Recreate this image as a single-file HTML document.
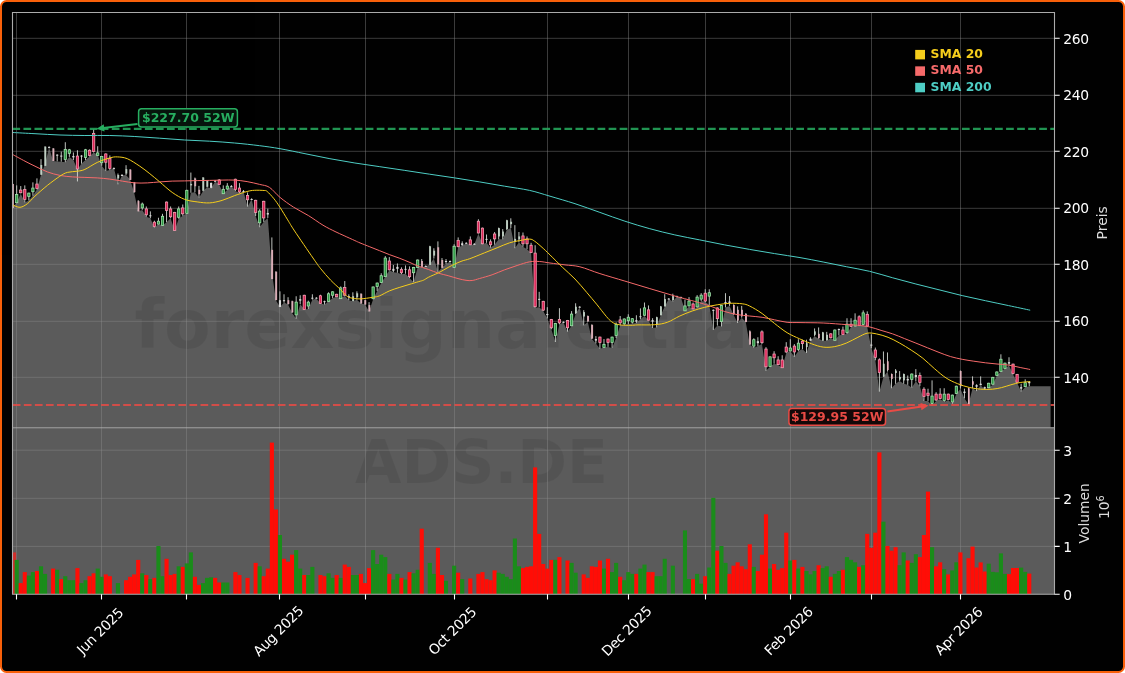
<!DOCTYPE html>
<html lang="de"><head><meta charset="utf-8"><title>ADS.DE Chart</title>
<style>html,body{margin:0;padding:0;background:#fff;}svg{display:block;}text{font-family:"DejaVu Sans", "Liberation Sans", sans-serif;}svg{opacity:0.999;will-change:opacity;}</style></head><body>
<svg width="1125" height="673" viewBox="0 0 1125 673">
<defs><clipPath id="cp"><rect x="12" y="12.5" width="1042.5" height="415.3"/></clipPath>
<clipPath id="cv"><rect x="12" y="427.8" width="1042.5" height="166.4"/></clipPath></defs>
<rect x="1" y="1" width="1123" height="671" rx="5.5" ry="5.5" fill="#000" stroke="#f8600a" stroke-width="2"/>
<rect x="12.5" y="427.8" width="1042" height="166.4" fill="#5b5b5b"/>
<g clip-path="url(#cp)"><polygon points="12.65,206.99 16.7,202.78 20.75,193.41 24.8,202.44 28.85,200.43 32.9,195.75 36.95,189.4 41,174.76 45.05,164.06 49.1,147.58 53.15,160.94 57.2,161.39 61.25,161.66 65.3,162.28 69.35,156.93 73.4,160.05 77.45,169.86 81.5,163.62 85.55,160.05 89.6,156.49 93.65,152.48 97.7,154.71 101.75,165.69 105.8,171.08 109.85,170.1 113.91,168.14 117.96,184.31 122.01,175.49 126.06,175 130.11,179.41 134.16,192.75 138.21,211.37 142.26,209.9 146.31,216.76 150.36,218.24 154.41,227.55 158.46,224.12 162.51,225.59 166.56,222.16 170.61,218.24 174.66,230.49 178.71,218.73 182.76,215.78 186.81,213.33 190.86,192.75 194.91,192.25 198.96,197.65 203.01,191.27 207.06,187.35 211.11,188.33 215.16,181.47 219.21,184.41 223.26,193.73 227.31,189.8 231.36,186.08 235.41,190.98 239.46,192.94 243.51,191.47 247.56,206.67 251.61,199.31 255.66,215.98 259.71,227.25 263.76,221.86 267.81,217.94 271.86,272.02 275.91,300.16 279.96,307.02 284.01,302.61 288.06,304.57 292.11,312.9 296.16,318.78 300.21,304.08 304.26,309.47 308.31,308.98 312.36,299.67 316.42,298.69 320.47,303.59 324.52,304.57 328.57,301.14 332.62,298.2 336.67,296.73 340.72,298.2 344.77,295.75 348.82,300.16 352.87,301.14 356.92,299.67 360.97,303.59 365.02,304.57 369.07,311.43 373.12,299.24 377.17,290.9 381.22,283.06 385.27,276.69 389.32,270.31 393.37,272.27 397.42,272.76 401.47,274.24 405.52,273.75 409.57,278.16 413.62,282.08 417.67,267.37 421.72,266.88 425.77,266.39 429.82,264.43 433.87,258.55 437.92,271.78 441.97,267.86 446.02,263.94 450.07,261.49 454.12,267.8 458.17,247.22 462.22,245.75 466.27,243.29 470.32,245.25 474.37,244.27 478.42,233.49 482.47,244.27 486.52,242.8 490.57,247.71 494.62,244.76 498.67,239.37 502.72,239.37 506.77,230.06 510.82,228.1 514.87,248.2 518.93,242.31 522.98,246.73 527.03,249.18 531.08,253.1 535.13,307.69 539.18,307.2 543.23,311.12 547.28,318.47 551.33,329.25 555.38,342 559.43,324.35 563.48,322.39 567.53,331.71 571.58,325.82 575.63,314.06 579.68,307.2 583.73,325.33 587.78,321.9 591.83,339.06 595.88,343.47 599.93,348.86 603.98,347.39 608.03,346.9 612.08,347.88 616.13,338.08 620.18,325.33 624.23,324.84 628.28,324.08 632.33,323.59 636.38,323.1 640.43,319.18 644.48,315.75 648.53,320.65 652.58,328 656.63,327.51 660.68,315.25 664.73,306.43 668.78,299.08 672.83,301.53 676.88,296.63 680.93,297.61 684.98,310.84 689.03,306.43 693.08,309.37 697.13,307.41 701.18,301.04 705.23,302.02 709.28,304.96 713.33,329.96 717.38,325.55 721.44,326.53 725.49,307.41 729.54,305.88 733.59,314.71 737.64,323.04 741.69,317.65 745.74,322.06 749.79,344.61 753.84,348.04 757.89,346.08 761.94,344.12 765.99,370.87 770.04,366.82 774.09,363.7 778.14,364.94 782.19,367.75 786.24,352.94 790.29,350.98 794.34,356.86 798.39,350.98 802.44,349.02 806.49,352.94 810.54,340.69 814.59,336.27 818.64,338.73 822.69,340.69 826.74,340.69 830.79,338.24 834.84,340.31 838.89,335.41 842.94,334.43 846.99,333.94 851.04,327.08 855.09,326.1 859.14,326.1 863.19,325.12 867.24,327.08 871.29,348.24 875.34,360.29 879.39,391.67 883.44,376.96 887.49,371.57 891.54,388.24 895.59,383.82 899.64,380.88 903.69,383.82 907.74,384.8 911.79,387.75 915.84,381.37 919.89,386.27 923.95,400.98 928,400.98 932.05,405.39 936.1,400.98 940.15,399.02 944.2,401.96 948.25,400 952.3,403.92 956.35,394.02 960.4,388.63 964.45,398.43 968.5,404.31 972.55,388.14 976.6,391.08 980.65,385.2 984.7,389.61 988.75,387.65 992.8,384.71 996.85,375.39 1000.9,371.47 1004.95,368.53 1009,365.59 1013.05,374.41 1017.1,382.75 1021.15,391.57 1025.2,387.16 1029.25,386.18 1050.6,386.18 1050.6,427.8 12.65,427.8" fill="#5b5b5b"/></g>
<g clip-path="url(#cp)"><text x="134.5" y="347.8" font-size="68" font-weight="bold" fill="#000" fill-opacity="0.08">forexsignale.trade</text></g>
<text x="481.5" y="482.5" text-anchor="middle" font-size="60" font-weight="bold" fill="#000" fill-opacity="0.08">ADS.DE</text>
<path d="M16.5,12.5V594.2M101.5,12.5V594.2M186.5,12.5V594.2M279.5,12.5V594.2M365.5,12.5V594.2M454.5,12.5V594.2M547.5,12.5V594.2M628.5,12.5V594.2M705.5,12.5V594.2M790.5,12.5V594.2M871.5,12.5V594.2M960.5,12.5V594.2M12.5,377.3H1054.5M12.5,321.3H1054.5M12.5,264.3H1054.5M12.5,208.3H1054.5M12.5,151.3H1054.5M12.5,95.3H1054.5M12.5,38.3H1054.5M12.5,546.4H1054.5M12.5,498.3H1054.5M12.5,450.2H1054.5" stroke="#8c8c8c" stroke-opacity="0.42" stroke-width="1" fill="none"/>
<g clip-path="url(#cv)">
<rect x="12.5" y="552.4" width="3.6" height="41.8" fill="#cf2e2b"/>
<rect x="14.64" y="559.9" width="4.12" height="34.3" fill="#1a8c1a"/>
<rect x="18.69" y="583.1" width="4.12" height="11.1" fill="#ff0d06"/>
<rect x="22.74" y="572.1" width="4.12" height="22.1" fill="#ff0d06"/>
<rect x="26.79" y="575.6" width="4.12" height="18.6" fill="#1a8c1a"/>
<rect x="30.84" y="572.1" width="4.12" height="22.1" fill="#1a8c1a"/>
<rect x="34.89" y="571" width="4.12" height="23.2" fill="#ff0d06"/>
<rect x="38.94" y="566.3" width="4.12" height="27.9" fill="#1a8c1a"/>
<rect x="42.99" y="573.9" width="4.12" height="20.3" fill="#1a8c1a"/>
<rect x="51.09" y="568.6" width="4.12" height="25.6" fill="#ff0d06"/>
<rect x="55.14" y="569.8" width="4.12" height="24.4" fill="#1a8c1a"/>
<rect x="59.19" y="579.1" width="4.12" height="15.1" fill="#ff0d06"/>
<rect x="63.24" y="576.2" width="4.12" height="18" fill="#1a8c1a"/>
<rect x="67.29" y="580.2" width="4.12" height="14" fill="#1a8c1a"/>
<rect x="71.34" y="580.2" width="4.12" height="14" fill="#1a8c1a"/>
<rect x="75.39" y="568.1" width="4.12" height="26.1" fill="#ff0d06"/>
<rect x="79.44" y="583.1" width="4.12" height="11.1" fill="#1a8c1a"/>
<rect x="83.49" y="580.2" width="4.12" height="14" fill="#1a8c1a"/>
<rect x="87.54" y="576.2" width="4.12" height="18" fill="#ff0d06"/>
<rect x="91.59" y="573.3" width="4.12" height="20.9" fill="#ff0d06"/>
<rect x="95.64" y="568.6" width="4.12" height="25.6" fill="#1a8c1a"/>
<rect x="99.69" y="576.8" width="4.12" height="17.4" fill="#1a8c1a"/>
<rect x="103.74" y="574.4" width="4.12" height="19.8" fill="#ff0d06"/>
<rect x="107.79" y="576.2" width="4.12" height="18" fill="#ff0d06"/>
<rect x="115.9" y="583.1" width="4.12" height="11.1" fill="#1a8c1a"/>
<rect x="124" y="580.2" width="4.12" height="14" fill="#ff0d06"/>
<rect x="128.05" y="576.8" width="4.12" height="17.4" fill="#ff0d06"/>
<rect x="132.1" y="574.4" width="4.12" height="19.8" fill="#ff0d06"/>
<rect x="136.15" y="559.9" width="4.12" height="34.3" fill="#ff0d06"/>
<rect x="140.2" y="573.3" width="4.12" height="20.9" fill="#1a8c1a"/>
<rect x="144.25" y="575" width="4.12" height="19.2" fill="#ff0d06"/>
<rect x="148.3" y="579.1" width="4.12" height="15.1" fill="#1a8c1a"/>
<rect x="152.35" y="577.9" width="4.12" height="16.3" fill="#ff0d06"/>
<rect x="156.4" y="546" width="4.12" height="48.2" fill="#1a8c1a"/>
<rect x="160.45" y="576.2" width="4.12" height="18" fill="#1a8c1a"/>
<rect x="164.5" y="558.8" width="4.12" height="35.4" fill="#ff0d06"/>
<rect x="168.55" y="575" width="4.12" height="19.2" fill="#ff0d06"/>
<rect x="172.6" y="573.9" width="4.12" height="20.3" fill="#ff0d06"/>
<rect x="176.65" y="566.3" width="4.12" height="27.9" fill="#1a8c1a"/>
<rect x="180.7" y="566.9" width="4.12" height="27.3" fill="#ff0d06"/>
<rect x="184.75" y="563.4" width="4.12" height="30.8" fill="#1a8c1a"/>
<rect x="188.8" y="552.4" width="4.12" height="41.8" fill="#1a8c1a"/>
<rect x="192.85" y="576.8" width="4.12" height="17.4" fill="#ff0d06"/>
<rect x="196.9" y="584.9" width="4.12" height="9.3" fill="#ff0d06"/>
<rect x="200.95" y="583.1" width="4.12" height="11.1" fill="#1a8c1a"/>
<rect x="205" y="577.9" width="4.12" height="16.3" fill="#1a8c1a"/>
<rect x="209.05" y="577.3" width="4.12" height="16.9" fill="#1a8c1a"/>
<rect x="213.1" y="577.9" width="4.12" height="16.3" fill="#ff0d06"/>
<rect x="217.15" y="582.5" width="4.12" height="11.7" fill="#ff0d06"/>
<rect x="221.2" y="582.5" width="4.12" height="11.7" fill="#1a8c1a"/>
<rect x="225.25" y="582.5" width="4.12" height="11.7" fill="#1a8c1a"/>
<rect x="233.35" y="572.1" width="4.12" height="22.1" fill="#ff0d06"/>
<rect x="237.4" y="575" width="4.12" height="19.2" fill="#ff0d06"/>
<rect x="245.5" y="577.9" width="4.12" height="16.3" fill="#ff0d06"/>
<rect x="253.6" y="562.9" width="4.12" height="31.3" fill="#ff0d06"/>
<rect x="257.65" y="566.3" width="4.12" height="27.9" fill="#1a8c1a"/>
<rect x="261.7" y="576.2" width="4.12" height="18" fill="#ff0d06"/>
<rect x="265.75" y="568.6" width="4.12" height="25.6" fill="#ff0d06"/>
<rect x="269.8" y="442.6" width="4.12" height="151.6" fill="#ff0d06"/>
<rect x="273.85" y="509.5" width="4.12" height="84.7" fill="#ff0d06"/>
<rect x="277.9" y="535" width="4.12" height="59.2" fill="#1a8c1a"/>
<rect x="281.95" y="558.8" width="4.12" height="35.4" fill="#ff0d06"/>
<rect x="286" y="561.7" width="4.12" height="32.5" fill="#ff0d06"/>
<rect x="290.05" y="554.7" width="4.12" height="39.5" fill="#ff0d06"/>
<rect x="294.1" y="550.1" width="4.12" height="44.1" fill="#1a8c1a"/>
<rect x="298.15" y="568.6" width="4.12" height="25.6" fill="#1a8c1a"/>
<rect x="302.2" y="575" width="4.12" height="19.2" fill="#ff0d06"/>
<rect x="306.25" y="575" width="4.12" height="19.2" fill="#1a8c1a"/>
<rect x="310.3" y="566.9" width="4.12" height="27.3" fill="#1a8c1a"/>
<rect x="318.41" y="575" width="4.12" height="19.2" fill="#ff0d06"/>
<rect x="322.46" y="576.2" width="4.12" height="18" fill="#ff0d06"/>
<rect x="326.51" y="573.3" width="4.12" height="20.9" fill="#1a8c1a"/>
<rect x="330.56" y="577.9" width="4.12" height="16.3" fill="#1a8c1a"/>
<rect x="334.61" y="575" width="4.12" height="19.2" fill="#ff0d06"/>
<rect x="338.66" y="577.9" width="4.12" height="16.3" fill="#1a8c1a"/>
<rect x="342.71" y="564.6" width="4.12" height="29.6" fill="#ff0d06"/>
<rect x="346.76" y="566.9" width="4.12" height="27.3" fill="#ff0d06"/>
<rect x="350.81" y="575" width="4.12" height="19.2" fill="#1a8c1a"/>
<rect x="354.86" y="575" width="4.12" height="19.2" fill="#1a8c1a"/>
<rect x="358.91" y="573.9" width="4.12" height="20.3" fill="#ff0d06"/>
<rect x="362.96" y="583.1" width="4.12" height="11.1" fill="#ff0d06"/>
<rect x="367.01" y="568.1" width="4.12" height="26.1" fill="#ff0d06"/>
<rect x="371.06" y="550.1" width="4.12" height="44.1" fill="#1a8c1a"/>
<rect x="375.11" y="564" width="4.12" height="30.2" fill="#1a8c1a"/>
<rect x="379.16" y="554.7" width="4.12" height="39.5" fill="#1a8c1a"/>
<rect x="383.21" y="557.1" width="4.12" height="37.1" fill="#1a8c1a"/>
<rect x="387.26" y="573.9" width="4.12" height="20.3" fill="#ff0d06"/>
<rect x="391.31" y="579.6" width="4.12" height="14.6" fill="#1a8c1a"/>
<rect x="395.36" y="573.9" width="4.12" height="20.3" fill="#1a8c1a"/>
<rect x="399.41" y="577.9" width="4.12" height="16.3" fill="#ff0d06"/>
<rect x="403.46" y="579.6" width="4.12" height="14.6" fill="#1a8c1a"/>
<rect x="407.51" y="572.1" width="4.12" height="22.1" fill="#ff0d06"/>
<rect x="411.56" y="573.3" width="4.12" height="20.9" fill="#1a8c1a"/>
<rect x="415.61" y="569.8" width="4.12" height="24.4" fill="#1a8c1a"/>
<rect x="419.66" y="528.7" width="4.12" height="65.5" fill="#ff0d06"/>
<rect x="427.76" y="562.9" width="4.12" height="31.3" fill="#1a8c1a"/>
<rect x="431.81" y="573.9" width="4.12" height="20.3" fill="#1a8c1a"/>
<rect x="435.86" y="547.8" width="4.12" height="46.4" fill="#ff0d06"/>
<rect x="439.91" y="575" width="4.12" height="19.2" fill="#ff0d06"/>
<rect x="443.96" y="580.8" width="4.12" height="13.4" fill="#1a8c1a"/>
<rect x="452.06" y="565.7" width="4.12" height="28.5" fill="#1a8c1a"/>
<rect x="456.11" y="572.7" width="4.12" height="21.5" fill="#ff0d06"/>
<rect x="460.16" y="579.1" width="4.12" height="15.1" fill="#1a8c1a"/>
<rect x="468.26" y="578.5" width="4.12" height="15.7" fill="#ff0d06"/>
<rect x="476.36" y="573.9" width="4.12" height="20.3" fill="#ff0d06"/>
<rect x="480.41" y="572.1" width="4.12" height="22.1" fill="#ff0d06"/>
<rect x="484.46" y="579.1" width="4.12" height="15.1" fill="#ff0d06"/>
<rect x="488.51" y="580.2" width="4.12" height="14" fill="#ff0d06"/>
<rect x="492.56" y="570.4" width="4.12" height="23.8" fill="#ff0d06"/>
<rect x="496.61" y="572.7" width="4.12" height="21.5" fill="#1a8c1a"/>
<rect x="500.66" y="573.9" width="4.12" height="20.3" fill="#1a8c1a"/>
<rect x="504.71" y="576.8" width="4.12" height="17.4" fill="#1a8c1a"/>
<rect x="508.76" y="579.1" width="4.12" height="15.1" fill="#1a8c1a"/>
<rect x="512.81" y="538.5" width="4.12" height="55.7" fill="#1a8c1a"/>
<rect x="516.87" y="566.3" width="4.12" height="27.9" fill="#1a8c1a"/>
<rect x="520.92" y="568.1" width="4.12" height="26.1" fill="#ff0d06"/>
<rect x="524.97" y="566.9" width="4.12" height="27.3" fill="#ff0d06"/>
<rect x="529.02" y="566.3" width="4.12" height="27.9" fill="#ff0d06"/>
<rect x="533.07" y="467.4" width="4.12" height="126.8" fill="#ff0d06"/>
<rect x="537.12" y="533.9" width="4.12" height="60.3" fill="#ff0d06"/>
<rect x="541.17" y="564" width="4.12" height="30.2" fill="#ff0d06"/>
<rect x="545.22" y="568.6" width="4.12" height="25.6" fill="#ff0d06"/>
<rect x="549.27" y="559.9" width="4.12" height="34.3" fill="#ff0d06"/>
<rect x="553.32" y="559.9" width="4.12" height="34.3" fill="#1a8c1a"/>
<rect x="557.37" y="557.1" width="4.12" height="37.1" fill="#ff0d06"/>
<rect x="565.47" y="560.5" width="4.12" height="33.7" fill="#ff0d06"/>
<rect x="569.52" y="562.9" width="4.12" height="31.3" fill="#1a8c1a"/>
<rect x="573.57" y="572.7" width="4.12" height="21.5" fill="#1a8c1a"/>
<rect x="581.67" y="574.4" width="4.12" height="19.8" fill="#ff0d06"/>
<rect x="585.72" y="577.9" width="4.12" height="16.3" fill="#ff0d06"/>
<rect x="589.77" y="566.3" width="4.12" height="27.9" fill="#ff0d06"/>
<rect x="593.82" y="566.9" width="4.12" height="27.3" fill="#ff0d06"/>
<rect x="597.87" y="560.5" width="4.12" height="33.7" fill="#ff0d06"/>
<rect x="601.92" y="568.6" width="4.12" height="25.6" fill="#1a8c1a"/>
<rect x="605.97" y="558.8" width="4.12" height="35.4" fill="#ff0d06"/>
<rect x="610.02" y="572.1" width="4.12" height="22.1" fill="#1a8c1a"/>
<rect x="614.07" y="562.9" width="4.12" height="31.3" fill="#1a8c1a"/>
<rect x="618.12" y="576.8" width="4.12" height="17.4" fill="#ff0d06"/>
<rect x="622.17" y="580.2" width="4.12" height="14" fill="#1a8c1a"/>
<rect x="626.22" y="572.1" width="4.12" height="22.1" fill="#1a8c1a"/>
<rect x="630.27" y="573.9" width="4.12" height="20.3" fill="#1a8c1a"/>
<rect x="634.32" y="573.9" width="4.12" height="20.3" fill="#ff0d06"/>
<rect x="638.37" y="568.6" width="4.12" height="25.6" fill="#1a8c1a"/>
<rect x="642.42" y="564.6" width="4.12" height="29.6" fill="#1a8c1a"/>
<rect x="646.47" y="572.1" width="4.12" height="22.1" fill="#ff0d06"/>
<rect x="650.52" y="572.1" width="4.12" height="22.1" fill="#ff0d06"/>
<rect x="654.57" y="576.2" width="4.12" height="18" fill="#1a8c1a"/>
<rect x="658.62" y="576.2" width="4.12" height="18" fill="#1a8c1a"/>
<rect x="662.67" y="558.8" width="4.12" height="35.4" fill="#1a8c1a"/>
<rect x="670.77" y="565.7" width="4.12" height="28.5" fill="#1a8c1a"/>
<rect x="682.92" y="530.4" width="4.12" height="63.8" fill="#1a8c1a"/>
<rect x="686.97" y="579.1" width="4.12" height="15.1" fill="#1a8c1a"/>
<rect x="691.02" y="579.1" width="4.12" height="15.1" fill="#ff0d06"/>
<rect x="695.07" y="573.9" width="4.12" height="20.3" fill="#1a8c1a"/>
<rect x="699.12" y="583.7" width="4.12" height="10.5" fill="#1a8c1a"/>
<rect x="703.17" y="576.2" width="4.12" height="18" fill="#ff0d06"/>
<rect x="707.22" y="567.5" width="4.12" height="26.7" fill="#1a8c1a"/>
<rect x="711.27" y="497.9" width="4.12" height="96.3" fill="#1a8c1a"/>
<rect x="715.32" y="550.7" width="4.12" height="43.5" fill="#ff0d06"/>
<rect x="719.38" y="546" width="4.12" height="48.2" fill="#1a8c1a"/>
<rect x="723.43" y="562.9" width="4.12" height="31.3" fill="#1a8c1a"/>
<rect x="727.48" y="573.9" width="4.12" height="20.3" fill="#ff0d06"/>
<rect x="731.53" y="565.7" width="4.12" height="28.5" fill="#ff0d06"/>
<rect x="735.58" y="562.3" width="4.12" height="31.9" fill="#ff0d06"/>
<rect x="739.63" y="566.3" width="4.12" height="27.9" fill="#ff0d06"/>
<rect x="743.68" y="569.2" width="4.12" height="25" fill="#ff0d06"/>
<rect x="747.73" y="544.3" width="4.12" height="49.9" fill="#ff0d06"/>
<rect x="751.78" y="566.9" width="4.12" height="27.3" fill="#1a8c1a"/>
<rect x="755.83" y="571" width="4.12" height="23.2" fill="#ff0d06"/>
<rect x="759.88" y="554.7" width="4.12" height="39.5" fill="#ff0d06"/>
<rect x="763.93" y="514.3" width="4.12" height="79.9" fill="#ff0d06"/>
<rect x="767.98" y="568.6" width="4.12" height="25.6" fill="#1a8c1a"/>
<rect x="772.03" y="564" width="4.12" height="30.2" fill="#ff0d06"/>
<rect x="776.08" y="569.8" width="4.12" height="24.4" fill="#ff0d06"/>
<rect x="780.13" y="568.1" width="4.12" height="26.1" fill="#ff0d06"/>
<rect x="784.18" y="532.7" width="4.12" height="61.5" fill="#ff0d06"/>
<rect x="788.23" y="560.5" width="4.12" height="33.7" fill="#1a8c1a"/>
<rect x="792.28" y="559.9" width="4.12" height="34.3" fill="#ff0d06"/>
<rect x="796.33" y="568.6" width="4.12" height="25.6" fill="#1a8c1a"/>
<rect x="800.38" y="566.9" width="4.12" height="27.3" fill="#ff0d06"/>
<rect x="804.43" y="571" width="4.12" height="23.2" fill="#1a8c1a"/>
<rect x="808.48" y="574.4" width="4.12" height="19.8" fill="#1a8c1a"/>
<rect x="812.53" y="571" width="4.12" height="23.2" fill="#1a8c1a"/>
<rect x="816.58" y="565.2" width="4.12" height="29" fill="#ff0d06"/>
<rect x="820.63" y="568.1" width="4.12" height="26.1" fill="#1a8c1a"/>
<rect x="824.68" y="566.3" width="4.12" height="27.9" fill="#1a8c1a"/>
<rect x="828.73" y="576.8" width="4.12" height="17.4" fill="#ff0d06"/>
<rect x="832.78" y="573.9" width="4.12" height="20.3" fill="#1a8c1a"/>
<rect x="836.83" y="571" width="4.12" height="23.2" fill="#1a8c1a"/>
<rect x="840.88" y="569.8" width="4.12" height="24.4" fill="#ff0d06"/>
<rect x="844.93" y="557.1" width="4.12" height="37.1" fill="#1a8c1a"/>
<rect x="848.98" y="559.9" width="4.12" height="34.3" fill="#1a8c1a"/>
<rect x="853.03" y="562.3" width="4.12" height="31.9" fill="#1a8c1a"/>
<rect x="857.08" y="566.9" width="4.12" height="27.3" fill="#ff0d06"/>
<rect x="861.13" y="565.2" width="4.12" height="29" fill="#1a8c1a"/>
<rect x="865.18" y="533.9" width="4.12" height="60.3" fill="#ff0d06"/>
<rect x="869.23" y="547.8" width="4.12" height="46.4" fill="#ff0d06"/>
<rect x="873.28" y="532.7" width="4.12" height="61.5" fill="#ff0d06"/>
<rect x="877.33" y="452.4" width="4.12" height="141.8" fill="#ff0d06"/>
<rect x="881.38" y="521.7" width="4.12" height="72.5" fill="#1a8c1a"/>
<rect x="885.43" y="546" width="4.12" height="48.2" fill="#ff0d06"/>
<rect x="889.48" y="550.7" width="4.12" height="43.5" fill="#ff0d06"/>
<rect x="893.53" y="547.2" width="4.12" height="47" fill="#ff0d06"/>
<rect x="897.58" y="565.2" width="4.12" height="29" fill="#1a8c1a"/>
<rect x="901.63" y="552.4" width="4.12" height="41.8" fill="#1a8c1a"/>
<rect x="905.68" y="560.5" width="4.12" height="33.7" fill="#ff0d06"/>
<rect x="909.73" y="562.9" width="4.12" height="31.3" fill="#1a8c1a"/>
<rect x="913.78" y="554.2" width="4.12" height="40" fill="#1a8c1a"/>
<rect x="917.83" y="557.1" width="4.12" height="37.1" fill="#ff0d06"/>
<rect x="921.89" y="535" width="4.12" height="59.2" fill="#ff0d06"/>
<rect x="925.94" y="491.6" width="4.12" height="102.6" fill="#ff0d06"/>
<rect x="929.99" y="547.2" width="4.12" height="47" fill="#1a8c1a"/>
<rect x="934.04" y="566.3" width="4.12" height="27.9" fill="#ff0d06"/>
<rect x="938.09" y="562.3" width="4.12" height="31.9" fill="#ff0d06"/>
<rect x="942.14" y="569.2" width="4.12" height="25" fill="#1a8c1a"/>
<rect x="946.19" y="574.4" width="4.12" height="19.8" fill="#ff0d06"/>
<rect x="950.24" y="570.4" width="4.12" height="23.8" fill="#1a8c1a"/>
<rect x="954.29" y="562.3" width="4.12" height="31.9" fill="#1a8c1a"/>
<rect x="958.34" y="552.4" width="4.12" height="41.8" fill="#ff0d06"/>
<rect x="966.44" y="558.2" width="4.12" height="36" fill="#ff0d06"/>
<rect x="970.49" y="546.6" width="4.12" height="47.6" fill="#ff0d06"/>
<rect x="974.54" y="567.5" width="4.12" height="26.7" fill="#ff0d06"/>
<rect x="978.59" y="562.4" width="4.12" height="31.8" fill="#ff0d06"/>
<rect x="982.64" y="571.5" width="4.12" height="22.7" fill="#ff0d06"/>
<rect x="986.69" y="563.7" width="4.12" height="30.5" fill="#1a8c1a"/>
<rect x="990.74" y="571.9" width="4.12" height="22.3" fill="#1a8c1a"/>
<rect x="994.79" y="572.3" width="4.12" height="21.9" fill="#1a8c1a"/>
<rect x="998.84" y="553.4" width="4.12" height="40.8" fill="#1a8c1a"/>
<rect x="1002.89" y="573.9" width="4.12" height="20.3" fill="#1a8c1a"/>
<rect x="1006.94" y="574.1" width="4.12" height="20.1" fill="#ff0d06"/>
<rect x="1010.99" y="568" width="4.12" height="26.2" fill="#ff0d06"/>
<rect x="1015.04" y="568" width="4.12" height="26.2" fill="#ff0d06"/>
<rect x="1019.09" y="567.6" width="4.12" height="26.6" fill="#1a8c1a"/>
<rect x="1023.14" y="571.9" width="4.12" height="22.3" fill="#1a8c1a"/>
<rect x="1027.19" y="573.6" width="4.12" height="20.6" fill="#ff0d06"/>
</g>
<g clip-path="url(#cp)">
<path d="M12.65,183.71V207.99M16.7,185.38V202.78M20.75,186.05V193.41M24.8,185.38V202.44M28.85,192.74V200.43M32.9,182.37V195.75M36.95,178.36V189.4M41,159.16V174.76M45.05,146.24V165.85M49.1,146.24V148.02M53.15,148.02V160.94M57.2,154.26V161.39M61.25,151.59V161.66M65.3,142.23V162.28M69.35,148.91V156.93M73.4,152.48V160.05M77.45,150.25V181.44M81.5,155.15V163.62M85.55,148.91V160.05M89.6,149.36V156.49M93.65,129.39V152.48M97.7,146.24V155.6M101.75,155.88V165.69M105.8,153.43V171.08M109.85,155.39V170.1M113.91,167.45V169.12M117.96,173.53V184.31M122.01,174.02V175.69M126.06,165.2V175M130.11,169.12V179.9M134.16,181.96V192.75M138.21,200.1V211.37M142.26,202.55V209.9M146.31,206.47V216.76M150.36,211.37V218.24M154.41,220.69V227.55M158.46,217.75V224.12M162.51,213.82V225.59M166.56,201.57V222.16M170.61,206.47V218.24M174.66,211.86V230.49M178.71,206.47V218.73M182.76,204.51V215.78M186.81,189.8V213.33M190.86,172.55V192.75M194.91,177.55V192.25M198.96,185.88V197.65M203.01,177.06V191.27M207.06,180V187.35M211.11,182.45V188.33M215.16,180V181.57M219.21,179.02V184.41M223.26,185.39V193.73M227.31,183.14V189.8M231.36,185.1V187.06M235.41,178.73V190.98M239.46,183.14V192.94M243.51,190V191.96M247.56,192.45V206.67M251.61,198.33V199.9M255.66,199.8V215.98M259.71,209.12V227.25M263.76,200.78V221.86M267.81,208.63V217.94M271.86,237.41V279.08M275.91,271.24V300.16M279.96,291.33V307.02M284.01,294.27V302.61M288.06,297.22V304.57M292.11,300.65V312.9M296.16,296.24V318.78M300.21,295.25V304.08M304.26,294.76V309.47M308.31,300.65V308.98M312.36,294.27V299.67M316.42,297.22V298.69M320.47,294.76V303.59M324.52,300.65V304.57M328.57,292.31V301.63M332.62,291.33V298.2M336.67,293.78V296.73M340.72,286.43V298.69M344.77,281.04V295.75M348.82,294.27V300.16M352.87,292.31V301.14M356.92,291.33V299.67M360.97,293.29V303.59M365.02,299.67V304.57M369.07,302.12V311.43M373.12,286.49V299.24M377.17,282.57V290.9M381.22,273.25V283.06M385.27,256.1V276.69M389.32,257.08V270.31M393.37,264.92V272.27M397.42,263.45V272.76M401.47,267.37V274.24M405.52,265.41V273.75M409.57,266.39V278.16M413.62,266.88V282.08M417.67,259.53V267.37M421.72,259.04V266.88M425.77,265.41V266.59M429.82,245.8V264.92M433.87,248.25V258.55M437.92,241.39V271.78M441.97,258.06V267.86M446.02,259.04V263.94M450.07,260.51V261.98M454.12,244.27V267.8M458.17,237.41V247.22M462.22,241.33V245.75M466.27,242.31V243.78M470.32,236.43V245.25M474.37,243.29V244.76M478.42,219.27V233.49M482.47,227.61V244.27M486.52,234.47V242.8M490.57,239.37V247.71M494.62,232.02V244.76M498.67,227.61V239.37M502.72,229.08V239.37M506.77,219.76V230.06M510.82,218.29V228.1M514.87,225.16V248.2M518.93,232.02V242.31M522.98,232.51V246.73M527.03,236.43V249.18M531.08,242.8V253.1M535.13,245.24V307.69M539.18,291.8V307.2M543.23,300.82V311.12M547.28,307.2V318.47M551.33,318.96V329.25M555.38,322.88V342M559.43,308.18V324.35M563.48,321.41V322.59M567.53,319.94V331.71M571.58,311.12V325.82M575.63,303.27V314.06M579.68,306.22V307.49M583.73,310.14V325.33M587.78,315.53V321.9M591.83,324.35V339.06M595.88,336.12V343.47M599.93,336.61V348.86M603.98,339.06V347.39M608.03,338.57V346.9M612.08,336.61V347.88M616.13,322.39V338.08M620.18,316.02V325.33M624.23,318.47V324.84M628.28,314.27V324.08M632.33,318.2V323.59M636.38,315.25V323.1M640.43,308.39V319.18M644.48,302.51V315.75M648.53,305.45V320.65M652.58,318.2V328M656.63,316.73V327.51M660.68,305.94V315.25M664.73,294.18V306.43M668.78,298.1V299.37M672.83,293.69V301.53M676.88,295.65V296.92M680.93,296.63V297.9M684.98,299.57V310.84M689.03,297.12V306.43M693.08,302.51V309.37M697.13,295.16V307.41M701.18,293.2V301.04M705.23,289.27V302.02M709.28,289.27V304.96M713.33,309.37V329.96M717.38,307.41V325.55M721.44,304.96V326.53M725.49,293.2V307.41M729.54,296.08V305.88M733.59,304.41V314.71M737.64,306.37V323.04M741.69,305.88V317.65M745.74,313.24V322.06M749.79,330.39V344.61M753.84,338.24V348.04M757.89,337.25V346.08M761.94,330.39V344.12M765.99,347.16V370.87M770.04,356.52V366.82M774.09,351.22V363.7M778.14,356.21V364.94M782.19,355.27V367.75M786.24,342.16V352.94M790.29,339.22V350.98M794.34,344.12V356.86M798.39,339.22V350.98M802.44,339.71V349.02M806.49,339.71V352.94M810.54,337.25V340.69M814.59,328.43V336.27M818.64,327.45V338.73M822.69,331.86V340.69M826.74,331.86V340.69M830.79,333.33V338.24M834.84,329.53V340.31M838.89,328.55V335.41M842.94,326.59V334.43M846.99,318.25V333.94M851.04,318.25V327.08M855.09,313.35V326.1M859.14,315.31V326.1M863.19,310.41V325.12M867.24,311.39V327.08M871.29,334.31V348.24M875.34,347.55V360.29M879.39,358.33V391.67M883.44,351.47V376.96M887.49,352.45V371.57M891.54,373.53V388.24M895.59,369.12V383.82M899.64,371.08V380.88M903.69,373.53V383.82M907.74,375.49V384.8M911.79,373.53V387.75M915.84,369.12V381.37M919.89,372.55V386.27M923.95,387.25V400.98M928,388.73V400.98M932.05,380.39V405.39M936.1,392.16V400.98M940.15,388.24V399.02M944.2,388.24V401.96M948.25,393.63V400M952.3,394.61V403.92M956.35,385.69V394.02M960.4,370.49V388.63M964.45,388.63V398.43M968.5,387.65V404.31M972.55,376.37V388.14M976.6,384.22V391.08M980.65,376.37V385.2M984.7,386.67V389.61M988.75,382.75V387.65M992.8,376.86V384.71M996.85,371.47V375.39M1000.9,354.31V371.47M1004.95,362.65V368.53M1009,357.25V365.59M1013.05,363.63V374.41M1017.1,373.92V382.75M1021.15,383.73V391.57M1025.2,379.31V387.16M1029.25,381.27V386.18" stroke="#d4d8d4" stroke-width="0.9" fill="none"/>
<rect x="12.1" y="183.98" width="1.8" height="24.01" fill="#e6b3be" fill-opacity="0.92"/>
<rect x="15.55" y="194.41" width="2.3" height="8.36" fill="#2f9a45" stroke="#a6e3b0" stroke-width="0.75"/>
<rect x="19.6" y="190.07" width="2.3" height="2.68" fill="#dc2255" stroke="#f7a3b6" stroke-width="0.75"/>
<rect x="23.65" y="189.4" width="2.3" height="10.03" fill="#dc2255" stroke="#f7a3b6" stroke-width="0.75"/>
<rect x="27.7" y="193.08" width="2.3" height="3.34" fill="#2f9a45" stroke="#a6e3b0" stroke-width="0.75"/>
<rect x="31.75" y="188.06" width="2.3" height="3.68" fill="#2f9a45" stroke="#a6e3b0" stroke-width="0.75"/>
<rect x="35.8" y="184.05" width="2.3" height="4.35" fill="#dc2255" stroke="#f7a3b6" stroke-width="0.75"/>
<rect x="40.45" y="164.96" width="1.8" height="9.8" fill="#c6d8ca" fill-opacity="0.92"/>
<rect x="44.5" y="146.68" width="1.8" height="19.16" fill="#c6d8ca" fill-opacity="0.92"/>
<rect x="48" y="147.13" width="2.2" height="1" fill="#dadada"/>
<rect x="52.6" y="148.47" width="1.8" height="12.48" fill="#e6b3be" fill-opacity="0.92"/>
<rect x="56.1" y="154.71" width="2.2" height="1" fill="#dadada"/>
<rect x="60.15" y="155.6" width="2.2" height="1" fill="#dadada"/>
<rect x="64.15" y="149.36" width="2.3" height="10.25" fill="#2f9a45" stroke="#a6e3b0" stroke-width="0.75"/>
<rect x="68.2" y="149.8" width="2.3" height="3.57" fill="#2f9a45" stroke="#a6e3b0" stroke-width="0.75"/>
<rect x="72.3" y="156.04" width="2.2" height="1.34" fill="#dadada"/>
<rect x="76.3" y="156.04" width="2.3" height="12.92" fill="#dc2255" stroke="#f7a3b6" stroke-width="0.75"/>
<rect x="80.4" y="155.6" width="2.2" height="1" fill="#dadada"/>
<rect x="84.4" y="149.8" width="2.3" height="7.58" fill="#2f9a45" stroke="#a6e3b0" stroke-width="0.75"/>
<rect x="88.45" y="150.25" width="2.3" height="5.35" fill="#dc2255" stroke="#f7a3b6" stroke-width="0.75"/>
<rect x="92.5" y="133.4" width="2.3" height="18.18" fill="#dc2255" stroke="#f7a3b6" stroke-width="0.75"/>
<rect x="96.55" y="152.92" width="2.3" height="2.67" fill="#2f9a45" stroke="#a6e3b0" stroke-width="0.75"/>
<rect x="100.6" y="156.37" width="2.3" height="6.37" fill="#2f9a45" stroke="#a6e3b0" stroke-width="0.75"/>
<rect x="104.65" y="153.92" width="2.3" height="8.33" fill="#dc2255" stroke="#f7a3b6" stroke-width="0.75"/>
<rect x="108.7" y="158.33" width="2.3" height="10.29" fill="#dc2255" stroke="#f7a3b6" stroke-width="0.75"/>
<rect x="112.81" y="168.14" width="2.2" height="1" fill="#dadada"/>
<rect x="117.41" y="175" width="1.8" height="3.43" fill="#c6d8ca" fill-opacity="0.92"/>
<rect x="120.91" y="175" width="2.2" height="1" fill="#dadada"/>
<rect x="125.51" y="169.12" width="1.8" height="4.41" fill="#c6d8ca" fill-opacity="0.92"/>
<rect x="129.56" y="169.61" width="1.8" height="10.29" fill="#e6b3be" fill-opacity="0.92"/>
<rect x="133.61" y="182.35" width="1.8" height="9.8" fill="#e6b3be" fill-opacity="0.92"/>
<rect x="137.66" y="201.08" width="1.8" height="10.29" fill="#e6b3be" fill-opacity="0.92"/>
<rect x="141.11" y="204.02" width="2.3" height="3.92" fill="#2f9a45" stroke="#a6e3b0" stroke-width="0.75"/>
<rect x="145.16" y="208.92" width="2.3" height="5.88" fill="#dc2255" stroke="#f7a3b6" stroke-width="0.75"/>
<rect x="149.26" y="215.29" width="2.2" height="1" fill="#dadada"/>
<rect x="153.26" y="222.16" width="2.3" height="4.41" fill="#dc2255" stroke="#f7a3b6" stroke-width="0.75"/>
<rect x="157.31" y="221.18" width="2.3" height="2.94" fill="#2f9a45" stroke="#a6e3b0" stroke-width="0.75"/>
<rect x="161.36" y="216.27" width="2.3" height="9.31" fill="#2f9a45" stroke="#a6e3b0" stroke-width="0.75"/>
<rect x="165.41" y="202.06" width="2.3" height="8.33" fill="#dc2255" stroke="#f7a3b6" stroke-width="0.75"/>
<rect x="169.46" y="208.92" width="2.3" height="7.84" fill="#dc2255" stroke="#f7a3b6" stroke-width="0.75"/>
<rect x="173.51" y="212.35" width="2.3" height="18.14" fill="#dc2255" stroke="#f7a3b6" stroke-width="0.75"/>
<rect x="177.56" y="208.92" width="2.3" height="8.33" fill="#2f9a45" stroke="#a6e3b0" stroke-width="0.75"/>
<rect x="181.61" y="207.94" width="2.3" height="5.88" fill="#dc2255" stroke="#f7a3b6" stroke-width="0.75"/>
<rect x="185.66" y="190.29" width="2.3" height="23.04" fill="#2f9a45" stroke="#a6e3b0" stroke-width="0.75"/>
<rect x="190.31" y="183.92" width="1.8" height="1.47" fill="#c6d8ca" fill-opacity="0.92"/>
<rect x="194.36" y="178.43" width="1.8" height="7.84" fill="#e6b3be" fill-opacity="0.92"/>
<rect x="198.41" y="189.8" width="1.8" height="4.41" fill="#e6b3be" fill-opacity="0.92"/>
<rect x="202.46" y="177.55" width="1.8" height="13.14" fill="#c6d8ca" fill-opacity="0.92"/>
<rect x="206.51" y="180.39" width="1.8" height="6.37" fill="#c6d8ca" fill-opacity="0.92"/>
<rect x="210.01" y="182.94" width="2.2" height="4.9" fill="#dadada"/>
<rect x="214.06" y="180.78" width="2.2" height="1" fill="#dadada"/>
<rect x="218.06" y="180" width="2.3" height="4.41" fill="#dc2255" stroke="#f7a3b6" stroke-width="0.75"/>
<rect x="222.11" y="189.31" width="2.3" height="4.41" fill="#2f9a45" stroke="#a6e3b0" stroke-width="0.75"/>
<rect x="226.16" y="186.08" width="2.3" height="2.94" fill="#2f9a45" stroke="#a6e3b0" stroke-width="0.75"/>
<rect x="230.26" y="186.08" width="2.2" height="1" fill="#dadada"/>
<rect x="234.26" y="179.22" width="2.3" height="10.29" fill="#dc2255" stroke="#f7a3b6" stroke-width="0.75"/>
<rect x="238.31" y="188.04" width="2.3" height="3.92" fill="#dc2255" stroke="#f7a3b6" stroke-width="0.75"/>
<rect x="242.41" y="190.98" width="2.2" height="1" fill="#dadada"/>
<rect x="246.41" y="195.39" width="2.3" height="4.41" fill="#dc2255" stroke="#f7a3b6" stroke-width="0.75"/>
<rect x="250.51" y="199.02" width="2.2" height="1" fill="#dadada"/>
<rect x="254.51" y="200.29" width="2.3" height="12.25" fill="#dc2255" stroke="#f7a3b6" stroke-width="0.75"/>
<rect x="258.56" y="211.08" width="2.3" height="11.76" fill="#2f9a45" stroke="#a6e3b0" stroke-width="0.75"/>
<rect x="262.61" y="201.27" width="2.3" height="16.67" fill="#dc2255" stroke="#f7a3b6" stroke-width="0.75"/>
<rect x="266.71" y="213.04" width="2.2" height="1.47" fill="#dadada"/>
<rect x="271.31" y="249.86" width="1.8" height="29.22" fill="#e6b3be" fill-opacity="0.92"/>
<rect x="275.36" y="271.73" width="1.8" height="28.43" fill="#e6b3be" fill-opacity="0.92"/>
<rect x="278.86" y="300.16" width="2.2" height="6.86" fill="#dadada"/>
<rect x="282.91" y="300.16" width="2.2" height="1" fill="#dadada"/>
<rect x="287.51" y="300.16" width="1.8" height="3.92" fill="#e6b3be" fill-opacity="0.92"/>
<rect x="291.56" y="301.14" width="1.8" height="11.27" fill="#e6b3be" fill-opacity="0.92"/>
<rect x="295.01" y="302.12" width="2.3" height="12.75" fill="#2f9a45" stroke="#a6e3b0" stroke-width="0.75"/>
<rect x="299.11" y="299.18" width="2.2" height="1.47" fill="#dadada"/>
<rect x="303.11" y="295.25" width="2.3" height="14.22" fill="#dc2255" stroke="#f7a3b6" stroke-width="0.75"/>
<rect x="307.16" y="302.12" width="2.3" height="3.92" fill="#2f9a45" stroke="#a6e3b0" stroke-width="0.75"/>
<rect x="311.26" y="297.71" width="2.2" height="1" fill="#dadada"/>
<rect x="315.31" y="297.71" width="2.2" height="1" fill="#dadada"/>
<rect x="319.32" y="295.75" width="2.3" height="7.84" fill="#dc2255" stroke="#f7a3b6" stroke-width="0.75"/>
<rect x="323.42" y="301.14" width="2.2" height="1" fill="#dadada"/>
<rect x="327.42" y="293.78" width="2.3" height="7.84" fill="#2f9a45" stroke="#a6e3b0" stroke-width="0.75"/>
<rect x="331.47" y="291.82" width="2.3" height="3.43" fill="#2f9a45" stroke="#a6e3b0" stroke-width="0.75"/>
<rect x="335.52" y="294.27" width="2.3" height="2.45" fill="#dc2255" stroke="#f7a3b6" stroke-width="0.75"/>
<rect x="339.57" y="287.9" width="2.3" height="10.78" fill="#2f9a45" stroke="#a6e3b0" stroke-width="0.75"/>
<rect x="343.62" y="287.41" width="2.3" height="7.84" fill="#dc2255" stroke="#f7a3b6" stroke-width="0.75"/>
<rect x="347.72" y="296.24" width="2.2" height="1" fill="#dadada"/>
<rect x="352.32" y="296.24" width="1.8" height="4.9" fill="#c6d8ca" fill-opacity="0.92"/>
<rect x="356.37" y="293.29" width="1.8" height="3.92" fill="#c6d8ca" fill-opacity="0.92"/>
<rect x="360.42" y="293.78" width="1.8" height="9.8" fill="#e6b3be" fill-opacity="0.92"/>
<rect x="364.47" y="300.16" width="1.8" height="4.41" fill="#e6b3be" fill-opacity="0.92"/>
<rect x="368.52" y="305.06" width="1.8" height="6.37" fill="#e6b3be" fill-opacity="0.92"/>
<rect x="371.97" y="286.98" width="2.3" height="11.76" fill="#2f9a45" stroke="#a6e3b0" stroke-width="0.75"/>
<rect x="376.02" y="283.06" width="2.3" height="3.43" fill="#2f9a45" stroke="#a6e3b0" stroke-width="0.75"/>
<rect x="380.07" y="275.71" width="2.3" height="6.86" fill="#2f9a45" stroke="#a6e3b0" stroke-width="0.75"/>
<rect x="384.12" y="258.06" width="2.3" height="18.63" fill="#2f9a45" stroke="#a6e3b0" stroke-width="0.75"/>
<rect x="388.17" y="261" width="2.3" height="8.82" fill="#dc2255" stroke="#f7a3b6" stroke-width="0.75"/>
<rect x="392.27" y="268.84" width="2.2" height="1.96" fill="#dadada"/>
<rect x="396.32" y="266.88" width="2.2" height="1.96" fill="#dadada"/>
<rect x="400.32" y="269.33" width="2.3" height="3.43" fill="#dc2255" stroke="#f7a3b6" stroke-width="0.75"/>
<rect x="404.42" y="268.84" width="2.2" height="1" fill="#dadada"/>
<rect x="408.42" y="269.82" width="2.3" height="6.86" fill="#dc2255" stroke="#f7a3b6" stroke-width="0.75"/>
<rect x="412.47" y="267.37" width="2.3" height="5.39" fill="#2f9a45" stroke="#a6e3b0" stroke-width="0.75"/>
<rect x="416.52" y="260.02" width="2.3" height="7.35" fill="#2f9a45" stroke="#a6e3b0" stroke-width="0.75"/>
<rect x="421.17" y="261" width="1.8" height="5.88" fill="#e6b3be" fill-opacity="0.92"/>
<rect x="424.67" y="265.9" width="2.2" height="1" fill="#dadada"/>
<rect x="429.27" y="246.29" width="1.8" height="18.63" fill="#c6d8ca" fill-opacity="0.92"/>
<rect x="433.32" y="250.71" width="1.8" height="4.9" fill="#c6d8ca" fill-opacity="0.92"/>
<rect x="437.37" y="247.27" width="1.8" height="17.16" fill="#e6b3be" fill-opacity="0.92"/>
<rect x="441.42" y="260.02" width="1.8" height="7.84" fill="#e6b3be" fill-opacity="0.92"/>
<rect x="444.92" y="261" width="2.2" height="1" fill="#dadada"/>
<rect x="448.97" y="261" width="2.2" height="1" fill="#dadada"/>
<rect x="452.97" y="246.24" width="2.3" height="21.08" fill="#2f9a45" stroke="#a6e3b0" stroke-width="0.75"/>
<rect x="457.02" y="240.35" width="2.3" height="6.37" fill="#dc2255" stroke="#f7a3b6" stroke-width="0.75"/>
<rect x="461.12" y="243.29" width="2.2" height="1.96" fill="#dadada"/>
<rect x="465.17" y="242.8" width="2.2" height="1" fill="#dadada"/>
<rect x="469.17" y="239.86" width="2.3" height="4.9" fill="#dc2255" stroke="#f7a3b6" stroke-width="0.75"/>
<rect x="473.27" y="243.78" width="2.2" height="1" fill="#dadada"/>
<rect x="477.27" y="221.24" width="2.3" height="11.76" fill="#dc2255" stroke="#f7a3b6" stroke-width="0.75"/>
<rect x="481.32" y="228.1" width="2.3" height="15.69" fill="#dc2255" stroke="#f7a3b6" stroke-width="0.75"/>
<rect x="485.42" y="238.88" width="2.2" height="1" fill="#dadada"/>
<rect x="489.42" y="241.82" width="2.3" height="2.94" fill="#dc2255" stroke="#f7a3b6" stroke-width="0.75"/>
<rect x="493.47" y="233.98" width="2.3" height="4.9" fill="#dc2255" stroke="#f7a3b6" stroke-width="0.75"/>
<rect x="498.12" y="228.1" width="1.8" height="8.33" fill="#c6d8ca" fill-opacity="0.92"/>
<rect x="502.17" y="231.53" width="1.8" height="4.9" fill="#c6d8ca" fill-opacity="0.92"/>
<rect x="506.22" y="220.25" width="1.8" height="8.82" fill="#c6d8ca" fill-opacity="0.92"/>
<rect x="510.27" y="221.73" width="1.8" height="2.45" fill="#c6d8ca" fill-opacity="0.92"/>
<rect x="514.32" y="238.88" width="1.8" height="2.94" fill="#c6d8ca" fill-opacity="0.92"/>
<rect x="518.38" y="236.43" width="1.8" height="2.94" fill="#c6d8ca" fill-opacity="0.92"/>
<rect x="521.83" y="235.94" width="2.3" height="7.84" fill="#dc2255" stroke="#f7a3b6" stroke-width="0.75"/>
<rect x="525.88" y="238.88" width="2.3" height="4.9" fill="#dc2255" stroke="#f7a3b6" stroke-width="0.75"/>
<rect x="529.93" y="245.25" width="2.3" height="7.35" fill="#dc2255" stroke="#f7a3b6" stroke-width="0.75"/>
<rect x="533.98" y="253.08" width="2.3" height="53.63" fill="#dc2255" stroke="#f7a3b6" stroke-width="0.75"/>
<rect x="538.08" y="298.86" width="2.2" height="1" fill="#dadada"/>
<rect x="542.08" y="301.31" width="2.3" height="8.82" fill="#dc2255" stroke="#f7a3b6" stroke-width="0.75"/>
<rect x="546.18" y="314.06" width="2.2" height="1" fill="#dadada"/>
<rect x="550.18" y="319.45" width="2.3" height="8.33" fill="#dc2255" stroke="#f7a3b6" stroke-width="0.75"/>
<rect x="554.23" y="323.37" width="2.3" height="12.25" fill="#2f9a45" stroke="#a6e3b0" stroke-width="0.75"/>
<rect x="558.28" y="319.45" width="2.3" height="3.43" fill="#dc2255" stroke="#f7a3b6" stroke-width="0.75"/>
<rect x="562.38" y="321.9" width="2.2" height="1" fill="#dadada"/>
<rect x="566.38" y="320.43" width="2.3" height="7.35" fill="#dc2255" stroke="#f7a3b6" stroke-width="0.75"/>
<rect x="570.43" y="314.06" width="2.3" height="11.76" fill="#2f9a45" stroke="#a6e3b0" stroke-width="0.75"/>
<rect x="575.08" y="306.71" width="1.8" height="6.37" fill="#c6d8ca" fill-opacity="0.92"/>
<rect x="578.58" y="306.71" width="2.2" height="1" fill="#dadada"/>
<rect x="583.18" y="312.1" width="1.8" height="4.41" fill="#c6d8ca" fill-opacity="0.92"/>
<rect x="587.23" y="316.02" width="1.8" height="5.39" fill="#e6b3be" fill-opacity="0.92"/>
<rect x="591.28" y="324.84" width="1.8" height="13.73" fill="#e6b3be" fill-opacity="0.92"/>
<rect x="594.78" y="339.06" width="2.2" height="1.47" fill="#dadada"/>
<rect x="598.78" y="337.1" width="2.3" height="5.39" fill="#dc2255" stroke="#f7a3b6" stroke-width="0.75"/>
<rect x="602.83" y="344.45" width="2.3" height="2.94" fill="#2f9a45" stroke="#a6e3b0" stroke-width="0.75"/>
<rect x="606.88" y="339.06" width="2.3" height="3.43" fill="#dc2255" stroke="#f7a3b6" stroke-width="0.75"/>
<rect x="610.93" y="337.1" width="2.3" height="5.39" fill="#2f9a45" stroke="#a6e3b0" stroke-width="0.75"/>
<rect x="614.98" y="324.35" width="2.3" height="11.27" fill="#2f9a45" stroke="#a6e3b0" stroke-width="0.75"/>
<rect x="619.03" y="319.94" width="2.3" height="2.94" fill="#dc2255" stroke="#f7a3b6" stroke-width="0.75"/>
<rect x="623.08" y="318.96" width="2.3" height="4.9" fill="#2f9a45" stroke="#a6e3b0" stroke-width="0.75"/>
<rect x="627.13" y="317.22" width="2.3" height="3.43" fill="#2f9a45" stroke="#a6e3b0" stroke-width="0.75"/>
<rect x="631.18" y="318.69" width="2.3" height="3.43" fill="#2f9a45" stroke="#a6e3b0" stroke-width="0.75"/>
<rect x="635.28" y="320.16" width="2.2" height="1.47" fill="#dadada"/>
<rect x="639.33" y="316.24" width="2.2" height="1" fill="#dadada"/>
<rect x="643.33" y="307.9" width="2.3" height="7.35" fill="#2f9a45" stroke="#a6e3b0" stroke-width="0.75"/>
<rect x="647.38" y="309.86" width="2.3" height="10.29" fill="#dc2255" stroke="#f7a3b6" stroke-width="0.75"/>
<rect x="651.48" y="320.16" width="2.2" height="1.47" fill="#dadada"/>
<rect x="656.08" y="317.22" width="1.8" height="6.86" fill="#c6d8ca" fill-opacity="0.92"/>
<rect x="660.13" y="306.43" width="1.8" height="8.82" fill="#c6d8ca" fill-opacity="0.92"/>
<rect x="664.18" y="299.08" width="1.8" height="7.35" fill="#c6d8ca" fill-opacity="0.92"/>
<rect x="667.68" y="298.59" width="2.2" height="1" fill="#dadada"/>
<rect x="672.28" y="296.14" width="1.8" height="3.92" fill="#c6d8ca" fill-opacity="0.92"/>
<rect x="675.78" y="296.14" width="2.2" height="1" fill="#dadada"/>
<rect x="679.83" y="297.12" width="2.2" height="1" fill="#dadada"/>
<rect x="683.83" y="305.94" width="2.3" height="4.9" fill="#2f9a45" stroke="#a6e3b0" stroke-width="0.75"/>
<rect x="687.88" y="301.04" width="2.3" height="4.9" fill="#2f9a45" stroke="#a6e3b0" stroke-width="0.75"/>
<rect x="691.93" y="303.98" width="2.3" height="4.9" fill="#dc2255" stroke="#f7a3b6" stroke-width="0.75"/>
<rect x="695.98" y="297.12" width="2.3" height="9.8" fill="#2f9a45" stroke="#a6e3b0" stroke-width="0.75"/>
<rect x="700.03" y="295.16" width="2.3" height="3.92" fill="#2f9a45" stroke="#a6e3b0" stroke-width="0.75"/>
<rect x="704.08" y="293.2" width="2.3" height="7.84" fill="#dc2255" stroke="#f7a3b6" stroke-width="0.75"/>
<rect x="708.13" y="292.71" width="2.3" height="3.43" fill="#2f9a45" stroke="#a6e3b0" stroke-width="0.75"/>
<rect x="712.23" y="309.86" width="2.2" height="1" fill="#dadada"/>
<rect x="716.23" y="307.9" width="2.3" height="10.78" fill="#dc2255" stroke="#f7a3b6" stroke-width="0.75"/>
<rect x="720.29" y="305.45" width="2.3" height="16.18" fill="#2f9a45" stroke="#a6e3b0" stroke-width="0.75"/>
<rect x="724.39" y="302.02" width="2.2" height="1.47" fill="#dadada"/>
<rect x="728.44" y="301.47" width="2.2" height="1.57" fill="#dadada"/>
<rect x="733.04" y="304.9" width="1.8" height="9.31" fill="#e6b3be" fill-opacity="0.92"/>
<rect x="737.09" y="309.8" width="1.8" height="10.78" fill="#e6b3be" fill-opacity="0.92"/>
<rect x="741.14" y="309.8" width="1.8" height="6.37" fill="#e6b3be" fill-opacity="0.92"/>
<rect x="745.19" y="313.73" width="1.8" height="8.33" fill="#e6b3be" fill-opacity="0.92"/>
<rect x="749.24" y="331.37" width="1.8" height="13.24" fill="#e6b3be" fill-opacity="0.92"/>
<rect x="752.69" y="339.71" width="2.3" height="6.37" fill="#2f9a45" stroke="#a6e3b0" stroke-width="0.75"/>
<rect x="756.79" y="341.18" width="2.2" height="1.96" fill="#dadada"/>
<rect x="760.79" y="331.86" width="2.3" height="10.78" fill="#dc2255" stroke="#f7a3b6" stroke-width="0.75"/>
<rect x="764.84" y="349.04" width="2.3" height="17.78" fill="#dc2255" stroke="#f7a3b6" stroke-width="0.75"/>
<rect x="768.89" y="356.83" width="2.3" height="9.67" fill="#2f9a45" stroke="#a6e3b0" stroke-width="0.75"/>
<rect x="772.94" y="354.03" width="2.3" height="3.74" fill="#dc2255" stroke="#f7a3b6" stroke-width="0.75"/>
<rect x="776.99" y="359.95" width="2.3" height="4.68" fill="#dc2255" stroke="#f7a3b6" stroke-width="0.75"/>
<rect x="781.04" y="359.95" width="2.3" height="7.8" fill="#dc2255" stroke="#f7a3b6" stroke-width="0.75"/>
<rect x="785.09" y="347.06" width="2.3" height="4.9" fill="#dc2255" stroke="#f7a3b6" stroke-width="0.75"/>
<rect x="789.14" y="348.04" width="2.3" height="2.94" fill="#2f9a45" stroke="#a6e3b0" stroke-width="0.75"/>
<rect x="793.19" y="346.08" width="2.3" height="5.88" fill="#dc2255" stroke="#f7a3b6" stroke-width="0.75"/>
<rect x="797.24" y="343.14" width="2.3" height="6.37" fill="#2f9a45" stroke="#a6e3b0" stroke-width="0.75"/>
<rect x="801.29" y="341.18" width="2.3" height="2.45" fill="#dc2255" stroke="#f7a3b6" stroke-width="0.75"/>
<rect x="805.94" y="343.14" width="1.8" height="3.92" fill="#c6d8ca" fill-opacity="0.92"/>
<rect x="809.44" y="338.73" width="2.2" height="1.96" fill="#dadada"/>
<rect x="814.04" y="331.37" width="1.8" height="3.43" fill="#c6d8ca" fill-opacity="0.92"/>
<rect x="818.09" y="333.82" width="1.8" height="4.41" fill="#e6b3be" fill-opacity="0.92"/>
<rect x="822.14" y="332.35" width="1.8" height="8.33" fill="#c6d8ca" fill-opacity="0.92"/>
<rect x="826.19" y="334.8" width="1.8" height="5.39" fill="#c6d8ca" fill-opacity="0.92"/>
<rect x="829.64" y="333.82" width="2.3" height="3.92" fill="#dc2255" stroke="#f7a3b6" stroke-width="0.75"/>
<rect x="833.69" y="330.02" width="2.3" height="10.29" fill="#2f9a45" stroke="#a6e3b0" stroke-width="0.75"/>
<rect x="837.79" y="329.04" width="2.2" height="1" fill="#dadada"/>
<rect x="841.79" y="330.02" width="2.3" height="4.41" fill="#dc2255" stroke="#f7a3b6" stroke-width="0.75"/>
<rect x="845.84" y="324.14" width="2.3" height="8.33" fill="#2f9a45" stroke="#a6e3b0" stroke-width="0.75"/>
<rect x="849.89" y="324.14" width="2.3" height="2.45" fill="#dc2255" stroke="#f7a3b6" stroke-width="0.75"/>
<rect x="853.94" y="320.22" width="2.3" height="5.88" fill="#2f9a45" stroke="#a6e3b0" stroke-width="0.75"/>
<rect x="857.99" y="316.78" width="2.3" height="8.82" fill="#dc2255" stroke="#f7a3b6" stroke-width="0.75"/>
<rect x="862.04" y="312.86" width="2.3" height="11.76" fill="#2f9a45" stroke="#a6e3b0" stroke-width="0.75"/>
<rect x="866.09" y="314.33" width="2.3" height="11.76" fill="#dc2255" stroke="#f7a3b6" stroke-width="0.75"/>
<rect x="870.19" y="344.61" width="2.2" height="1" fill="#dadada"/>
<rect x="874.19" y="350" width="2.3" height="7.35" fill="#dc2255" stroke="#f7a3b6" stroke-width="0.75"/>
<rect x="878.24" y="359.8" width="2.3" height="12.75" fill="#dc2255" stroke="#f7a3b6" stroke-width="0.75"/>
<rect x="882.89" y="363.73" width="1.8" height="12.75" fill="#c6d8ca" fill-opacity="0.92"/>
<rect x="886.94" y="361.27" width="1.8" height="8.82" fill="#e6b3be" fill-opacity="0.92"/>
<rect x="890.99" y="374.02" width="1.8" height="4.9" fill="#e6b3be" fill-opacity="0.92"/>
<rect x="895.04" y="370.59" width="1.8" height="2.45" fill="#c6d8ca" fill-opacity="0.92"/>
<rect x="899.09" y="376.96" width="1.8" height="2.45" fill="#c6d8ca" fill-opacity="0.92"/>
<rect x="903.14" y="374.02" width="1.8" height="6.37" fill="#c6d8ca" fill-opacity="0.92"/>
<rect x="906.64" y="378.92" width="2.2" height="1.47" fill="#dadada"/>
<rect x="910.64" y="374.02" width="2.3" height="5.39" fill="#2f9a45" stroke="#a6e3b0" stroke-width="0.75"/>
<rect x="914.74" y="375" width="2.2" height="1.96" fill="#dadada"/>
<rect x="918.74" y="375.49" width="2.3" height="6.86" fill="#dc2255" stroke="#f7a3b6" stroke-width="0.75"/>
<rect x="922.8" y="389.22" width="2.3" height="7.35" fill="#dc2255" stroke="#f7a3b6" stroke-width="0.75"/>
<rect x="926.85" y="393.14" width="2.3" height="2.45" fill="#dc2255" stroke="#f7a3b6" stroke-width="0.75"/>
<rect x="930.9" y="396.08" width="2.3" height="7.35" fill="#2f9a45" stroke="#a6e3b0" stroke-width="0.75"/>
<rect x="934.95" y="394.12" width="2.3" height="5.88" fill="#dc2255" stroke="#f7a3b6" stroke-width="0.75"/>
<rect x="939" y="394.12" width="2.3" height="4.41" fill="#dc2255" stroke="#f7a3b6" stroke-width="0.75"/>
<rect x="943.05" y="394.12" width="2.3" height="6.37" fill="#2f9a45" stroke="#a6e3b0" stroke-width="0.75"/>
<rect x="947.1" y="394.12" width="2.3" height="5.39" fill="#dc2255" stroke="#f7a3b6" stroke-width="0.75"/>
<rect x="951.15" y="395.1" width="2.3" height="6.86" fill="#2f9a45" stroke="#a6e3b0" stroke-width="0.75"/>
<rect x="955.2" y="386.18" width="2.3" height="7.35" fill="#2f9a45" stroke="#a6e3b0" stroke-width="0.75"/>
<rect x="959.85" y="370.98" width="1.8" height="15.2" fill="#e6b3be" fill-opacity="0.92"/>
<rect x="963.35" y="391.57" width="2.2" height="1.47" fill="#dadada"/>
<rect x="967.95" y="388.14" width="1.8" height="16.18" fill="#e6b3be" fill-opacity="0.92"/>
<rect x="972" y="381.27" width="1.8" height="3.43" fill="#e6b3be" fill-opacity="0.92"/>
<rect x="975.5" y="385.2" width="2.2" height="1.47" fill="#dadada"/>
<rect x="979.55" y="383.73" width="2.2" height="1.47" fill="#dadada"/>
<rect x="983.6" y="387.16" width="2.2" height="1.47" fill="#dadada"/>
<rect x="987.6" y="383.24" width="2.3" height="4.41" fill="#2f9a45" stroke="#a6e3b0" stroke-width="0.75"/>
<rect x="991.65" y="377.35" width="2.3" height="6.86" fill="#2f9a45" stroke="#a6e3b0" stroke-width="0.75"/>
<rect x="995.7" y="371.96" width="2.3" height="3.43" fill="#2f9a45" stroke="#a6e3b0" stroke-width="0.75"/>
<rect x="999.75" y="359.22" width="2.3" height="12.25" fill="#2f9a45" stroke="#a6e3b0" stroke-width="0.75"/>
<rect x="1003.8" y="363.14" width="2.3" height="5.39" fill="#2f9a45" stroke="#a6e3b0" stroke-width="0.75"/>
<rect x="1007.9" y="362.16" width="2.2" height="1.47" fill="#dadada"/>
<rect x="1011.9" y="364.12" width="2.3" height="9.31" fill="#dc2255" stroke="#f7a3b6" stroke-width="0.75"/>
<rect x="1015.95" y="374.41" width="2.3" height="7.84" fill="#dc2255" stroke="#f7a3b6" stroke-width="0.75"/>
<rect x="1020.05" y="387.16" width="2.2" height="1.47" fill="#dadada"/>
<rect x="1024.05" y="382.75" width="2.3" height="3.92" fill="#2f9a45" stroke="#a6e3b0" stroke-width="0.75"/>
<rect x="1028.15" y="381.76" width="2.2" height="1.47" fill="#dadada"/>
</g>
<g clip-path="url(#cp)" fill="none" stroke-width="1.0" stroke-linejoin="round">
<path d="M12.5,132.5C16.25,132.7 27.08,133.28 35,133.7C42.92,134.12 51.68,134.7 60,135C68.32,135.3 76.6,135.42 84.9,135.5C93.2,135.58 101.48,135.33 109.8,135.5C118.12,135.67 126.48,136.05 134.8,136.5C143.12,136.95 151.38,137.62 159.7,138.2C168.02,138.78 176.38,139.5 184.7,140C193.02,140.5 201.28,140.7 209.6,141.2C217.92,141.7 226.27,142.25 234.6,143C242.93,143.75 252.03,144.75 259.6,145.7C267.17,146.65 272.43,147.37 280,148.7C287.57,150.03 296.68,152.03 305,153.7C313.32,155.37 321.58,157.15 329.9,158.7C338.22,160.25 346.58,161.67 354.9,163C363.22,164.33 371.48,165.47 379.8,166.7C388.12,167.93 396.48,169.15 404.8,170.4C413.12,171.65 421.38,172.95 429.7,174.2C438.02,175.45 446.38,176.62 454.7,177.9C463.02,179.18 471.28,180.52 479.6,181.9C487.92,183.28 496.27,184.78 504.6,186.2C512.93,187.62 522.03,188.73 529.6,190.4C537.17,192.07 542.43,193.98 550,196.2C557.57,198.42 566.68,201 575,203.7C583.32,206.4 591.58,209.48 599.9,212.4C608.22,215.32 616.58,218.48 624.9,221.2C633.22,223.92 641.48,226.42 649.8,228.7C658.12,230.98 666.48,233.03 674.8,234.9C683.12,236.77 691.38,238.23 699.7,239.9C708.02,241.57 716.38,243.32 724.7,244.9C733.02,246.48 741.28,247.95 749.6,249.4C757.92,250.85 766.2,252.23 774.6,253.6C783,254.97 791.9,256.2 800,257.6C808.1,259 815.48,260.48 823.2,262C830.92,263.52 838.58,265.15 846.3,266.7C854.02,268.25 861.77,269.45 869.5,271.3C877.23,273.15 884.97,275.68 892.7,277.8C900.43,279.92 908.18,282 915.9,284C923.62,286 931.28,287.87 939,289.8C946.72,291.73 954.47,293.78 962.2,295.6C969.93,297.42 977.67,299.03 985.4,300.7C993.13,302.37 1001.13,304.02 1008.6,305.6C1016.07,307.18 1026.6,309.43 1030.2,310.2" stroke="#4ecdc4"/>
<path d="M12.5,154.4C14.58,155.53 21.25,159.23 25,161.2C28.75,163.17 31.27,164.42 35,166.2C38.73,167.98 43.25,170.37 47.4,171.9C51.55,173.43 55.73,174.57 59.9,175.4C64.07,176.23 68.23,176.57 72.4,176.9C76.57,177.23 80.75,177.23 84.9,177.4C89.05,177.57 93.15,177.62 97.3,177.9C101.45,178.18 105.63,178.57 109.8,179.1C113.97,179.63 118.13,180.47 122.3,181.1C126.47,181.73 130.63,182.6 134.8,182.9C138.97,183.2 143.15,183.07 147.3,182.9C151.45,182.73 155.55,182.2 159.7,181.9C163.85,181.6 168.03,181.27 172.2,181.1C176.37,180.93 180.53,180.98 184.7,180.9C188.87,180.82 193.05,180.68 197.2,180.6C201.35,180.52 205.45,180.48 209.6,180.4C213.75,180.32 217.93,180.15 222.1,180.1C226.27,180.05 230.43,179.85 234.6,180.1C238.77,180.35 242.93,180.88 247.1,181.6C251.27,182.32 255.87,183.43 259.6,184.4C263.33,185.37 266.1,185.23 269.5,187.4C272.9,189.57 275.98,194.1 280,197.4C284.02,200.7 288.88,204.18 293.6,207.2C298.32,210.22 303.4,212.5 308.3,215.5C313.2,218.5 318.55,222.53 323,225.2C327.45,227.87 331.48,229.75 335,231.5C338.52,233.25 340.78,234.18 344.1,235.7C347.42,237.22 352.25,239.4 354.9,240.6C357.55,241.8 357.52,241.87 360,242.9C362.48,243.93 366.53,245.5 369.8,246.8C373.07,248.1 376.33,249.4 379.6,250.7C382.87,252 386.13,253.37 389.4,254.6C392.67,255.83 395.93,256.85 399.2,258.1C402.47,259.35 406.05,260.85 409,262.1C411.95,263.35 413.63,264.37 416.9,265.6C420.17,266.83 425.02,268.23 428.6,269.5C432.18,270.77 435.13,272.17 438.4,273.2C441.67,274.23 444.93,274.8 448.2,275.7C451.47,276.6 455.03,277.83 458,278.6C460.97,279.37 463.63,279.98 466,280.3C468.37,280.62 469.93,280.8 472.2,280.5C474.47,280.2 476.28,279.45 479.6,278.5C482.92,277.55 487.93,276.25 492.1,274.8C496.27,273.35 500.43,271.35 504.6,269.8C508.77,268.25 512.93,266.83 517.1,265.5C521.27,264.17 525.87,262.47 529.6,261.8C533.33,261.13 536.1,261.3 539.5,261.5C542.9,261.7 545.75,262.43 550,263C554.25,263.57 560.02,264.27 565,264.9C569.98,265.53 574.08,265.35 579.9,266.8C585.72,268.25 592.4,271.22 599.9,273.6C607.4,275.98 616.58,278.6 624.9,281.1C633.22,283.6 641.48,286.12 649.8,288.6C658.12,291.08 666.48,293.63 674.8,296C683.12,298.37 693.47,301 699.7,302.8C705.93,304.6 708.03,305.35 712.2,306.8C716.37,308.25 720.53,310.2 724.7,311.5C728.87,312.8 733.05,313.85 737.2,314.6C741.35,315.35 745.45,315.55 749.6,316C753.75,316.45 757.93,316.67 762.1,317.3C766.27,317.93 770.43,318.97 774.6,319.8C778.77,320.63 782.87,321.83 787.1,322.3C791.33,322.77 793.98,322.48 800,322.6C806.02,322.72 815.48,322.67 823.2,323C830.92,323.33 840.52,324.22 846.3,324.6C852.08,324.98 854.03,324.92 857.9,325.3C861.77,325.68 865.63,326.05 869.5,326.9C873.37,327.75 877.23,329.23 881.1,330.4C884.97,331.57 888.83,332.55 892.7,333.9C896.57,335.25 900.43,336.97 904.3,338.5C908.17,340.03 912.03,341.55 915.9,343.1C919.77,344.65 923.65,346.25 927.5,347.8C931.35,349.35 935.15,350.93 939,352.4C942.85,353.87 946.73,355.45 950.6,356.6C954.47,357.75 958.33,358.53 962.2,359.3C966.07,360.07 969.93,360.62 973.8,361.2C977.67,361.78 981.53,362.33 985.4,362.8C989.27,363.27 993.13,363.62 997,364C1000.87,364.38 1004.73,364.52 1008.6,365.1C1012.47,365.68 1016.6,366.77 1020.2,367.5C1023.8,368.23 1028.53,369.17 1030.2,369.5" stroke="#f66a6a"/>
<path d="M12.5,204.9C13.75,205.3 17.5,207.52 20,207.3C22.5,207.08 25,205.47 27.5,203.6C30,201.73 31.68,199.13 35,196.1C38.32,193.07 43.25,188.72 47.4,185.4C51.55,182.08 56.57,178.37 59.9,176.2C63.23,174.03 64.48,173.23 67.4,172.4C70.32,171.57 74.48,171.7 77.4,171.2C80.32,170.7 81.58,170.87 84.9,169.4C88.22,167.93 93.15,164.32 97.3,162.4C101.45,160.48 106.47,158.82 109.8,157.9C113.13,156.98 114.38,156.77 117.3,156.9C120.22,157.03 123.55,157.15 127.3,158.7C131.05,160.25 136.05,163.7 139.8,166.2C143.55,168.7 146.48,171.08 149.8,173.7C153.12,176.32 155.97,178.78 159.7,181.9C163.43,185.02 168.03,189.48 172.2,192.4C176.37,195.32 180.53,197.82 184.7,199.4C188.87,200.98 193.05,201.32 197.2,201.9C201.35,202.48 205.45,203.15 209.6,202.9C213.75,202.65 217.93,201.62 222.1,200.4C226.27,199.18 230.43,197.08 234.6,195.6C238.77,194.12 243.8,192.38 247.1,191.5C250.4,190.62 251.55,190.47 254.4,190.3C257.25,190.13 262.07,190.3 264.2,190.5C266.33,190.7 265.57,190.12 267.2,191.5C268.83,192.88 271.88,196.18 274,198.8C276.12,201.42 277.62,203.68 279.9,207.2C282.18,210.72 285.25,215.93 287.7,219.9C290.15,223.87 290.38,224.65 294.6,231C298.82,237.35 308.63,251.7 313,258C317.37,264.3 317.87,265.12 320.8,268.8C323.73,272.48 327.33,276.67 330.6,280.1C333.87,283.53 337.95,286.95 340.4,289.4C342.85,291.85 343.67,293.42 345.3,294.8C346.93,296.18 347.75,297.02 350.2,297.7C352.65,298.38 356.25,298.97 360,298.9C363.75,298.83 369.43,297.82 372.7,297.3C375.97,296.78 376.82,296.87 379.6,295.8C382.38,294.73 386.13,292.28 389.4,290.9C392.67,289.52 395.93,288.57 399.2,287.5C402.47,286.43 405.73,285.48 409,284.5C412.27,283.52 416.35,282.33 418.8,281.6C421.25,280.87 422.07,280.83 423.7,280.1C425.33,279.37 426.15,278.42 428.6,277.2C431.05,275.98 435.13,274.43 438.4,272.8C441.67,271.17 445.58,268.8 448.2,267.4C450.82,266 451.8,265.47 454.1,264.4C456.4,263.33 459.38,261.95 462,261C464.62,260.05 466.03,260.07 469.8,258.7C473.57,257.33 480.05,254.62 484.6,252.8C489.15,250.98 492.93,249.47 497.1,247.8C501.27,246.13 505.85,244 509.6,242.8C513.35,241.6 516.27,241.22 519.6,240.6C522.93,239.98 527.12,239.02 529.6,239.1C532.08,239.18 532.43,239.73 534.5,241.1C536.57,242.47 539.42,245 542,247.3C544.58,249.6 546.58,251.57 550,254.9C553.42,258.23 558.33,263.28 562.5,267.3C566.67,271.32 570.95,274.8 575,279C579.05,283.2 583.2,288.3 586.8,292.5C590.4,296.7 593.33,300.2 596.6,304.2C599.87,308.2 603.95,313.62 606.4,316.5C608.85,319.38 609.82,320.3 611.3,321.5C612.78,322.7 613.67,323.12 615.3,323.7C616.93,324.28 618.5,324.73 621.1,325C623.7,325.27 628.08,325.32 630.9,325.3C633.72,325.28 634.02,325 638,324.9C641.98,324.8 649.92,325.13 654.8,324.7C659.68,324.27 663.13,323.75 667.3,322.3C671.47,320.85 675.65,317.88 679.8,316C683.95,314.12 688.05,312.45 692.2,311C696.35,309.55 700.53,308.33 704.7,307.3C708.87,306.27 713.03,305.47 717.2,304.8C721.37,304.13 725.53,303.47 729.7,303.3C733.87,303.13 738.88,303.35 742.2,303.8C745.52,304.25 746.28,304.38 749.6,306C752.92,307.62 757.93,310.58 762.1,313.5C766.27,316.42 770.43,320.3 774.6,323.5C778.77,326.7 782.93,330.15 787.1,332.7C791.27,335.25 795.52,336.95 799.6,338.8C803.68,340.65 807.67,342.42 811.6,343.8C815.53,345.18 819.33,346.63 823.2,347.1C827.07,347.57 830.95,347.27 834.8,346.6C838.65,345.93 842.45,344.65 846.3,343.1C850.15,341.55 854.42,338.95 857.9,337.3C861.38,335.65 864.1,333.77 867.2,333.2C870.3,332.63 873.02,333.22 876.5,333.9C879.98,334.58 884.23,335.77 888.1,337.3C891.97,338.83 895.85,340.97 899.7,343.1C903.55,345.23 907.35,347.58 911.2,350.1C915.05,352.62 918.93,355.12 922.8,358.2C926.67,361.28 930.53,365.32 934.4,368.6C938.27,371.88 942.13,375.38 946,377.9C949.87,380.42 953.73,382.12 957.6,383.7C961.47,385.28 965.33,386.48 969.2,387.4C973.07,388.32 976.93,388.9 980.8,389.2C984.67,389.5 988.93,389.47 992.4,389.2C995.87,388.93 998.52,388.33 1001.6,387.6C1004.68,386.87 1007.8,385.65 1010.9,384.8C1014,383.95 1016.98,383.03 1020.2,382.5C1023.42,381.97 1028.53,381.75 1030.2,381.6" stroke="#f5cd1c"/>
</g>
<path d="M12.5,128.9H1054.5" stroke="#27ae60" stroke-width="2.08" stroke-dasharray="7.708 3.333" stroke-dashoffset="0.1" stroke-opacity="0.85" fill="none"/>
<path d="M12.5,405H1054.5" stroke="#e84b45" stroke-width="2.08" stroke-dasharray="7.708 3.333" stroke-dashoffset="-0.3" stroke-opacity="0.85" fill="none"/>
<path d="M137.5,124.1L103.16,128.05" stroke="#27ae60" stroke-width="2" fill="none"/>
<polygon points="96.6,128.8 103.74,124.36 104.56,131.51" fill="#27ae60"/>
<rect x="138.6" y="108.7" width="98.8" height="18.3" rx="3" ry="3" fill="#06140c" stroke="#27ae60" stroke-width="1.5"/>
<text x="188.2" y="122.1" text-anchor="middle" font-size="12.5" font-weight="bold" fill="#27ae60">$227.70 52W</text>
<path d="M887.4,411.4L921.96,406.52" stroke="#e84b45" stroke-width="2" fill="none"/>
<polygon points="928.5,405.6 921.48,410.23 920.47,403.1" fill="#e84b45"/>
<rect x="788.9" y="408.4" width="96.6" height="16.8" rx="3" ry="3" fill="#140808" stroke="#e84b45" stroke-width="1.5"/>
<text x="837.2" y="421.1" text-anchor="middle" font-size="12.5" font-weight="bold" fill="#e84b45">$129.95 52W</text>
<path d="M12.5,12.5H1054.5V594.2H12.5Z M12.5,427.8H1054.5" stroke="#ababab" stroke-width="1.1" fill="none"/>
<path d="M1054.5,377.3h5.2M1054.5,321.3h5.2M1054.5,264.3h5.2M1054.5,208.3h5.2M1054.5,151.3h5.2M1054.5,95.3h5.2M1054.5,38.3h5.2M1054.5,594.3h5.2M1054.5,546.4h5.2M1054.5,498.3h5.2M1054.5,450.2h5.2M16.5,594.2v5.2M101.5,594.2v5.2M186.5,594.2v5.2M279.5,594.2v5.2M365.5,594.2v5.2M454.5,594.2v5.2M547.5,594.2v5.2M628.5,594.2v5.2M705.5,594.2v5.2M790.5,594.2v5.2M871.5,594.2v5.2M960.5,594.2v5.2" stroke="#fff" stroke-width="1.1" fill="none"/>
<g font-size="13.89" fill="#fff" letter-spacing="-0.35">
<text x="1063.3" y="382.6">140</text>
<text x="1063.3" y="326.09">160</text>
<text x="1063.3" y="269.58">180</text>
<text x="1063.3" y="213.07">200</text>
<text x="1063.3" y="156.55">220</text>
<text x="1063.3" y="100.04">240</text>
<text x="1063.3" y="43.53">260</text>
<text x="1063.3" y="599.7">0</text>
<text x="1063.3" y="551.8">1</text>
<text x="1063.3" y="503.7">2</text>
<text x="1063.3" y="455.6">3</text>
<text transform="translate(100.85,631.9) rotate(-45)" text-anchor="middle" y="3.6">Jun 2025</text>
<text transform="translate(279.06,631.9) rotate(-45)" text-anchor="middle" y="3.6">Aug 2025</text>
<text transform="translate(453.22,631.9) rotate(-45)" text-anchor="middle" y="3.6">Oct 2025</text>
<text transform="translate(627.38,631.9) rotate(-45)" text-anchor="middle" y="3.6">Dec 2025</text>
<text transform="translate(789.39,631.9) rotate(-45)" text-anchor="middle" y="3.6">Feb 2026</text>
<text transform="translate(959.5,631.9) rotate(-45)" text-anchor="middle" y="3.6">Apr 2026</text>
</g>
<g font-size="13.89" fill="#dcdcdc">
<text transform="translate(1107.2,222.8) rotate(-90)" text-anchor="middle">Preis</text>
<text transform="translate(1089.3,513.3) rotate(-90)" text-anchor="middle">Volumen</text>
<text transform="translate(1109,507.2) rotate(-90)" text-anchor="middle">10<tspan font-size="9.7" dy="-5.2">6</tspan></text>
</g>
<g font-size="12.4" font-weight="bold">
<rect x="915.2" y="49.9" width="9.8" height="9.5" fill="#f5cd1c"/>
<text x="930.6" y="58.3" fill="#f5cd1c">SMA 20</text>
<rect x="915.2" y="66.35" width="9.8" height="9.5" fill="#f66a6a"/>
<text x="930.6" y="74.05" fill="#f66a6a">SMA 50</text>
<rect x="915.2" y="82.8" width="9.8" height="9.5" fill="#4ecdc4"/>
<text x="930.6" y="91.2" fill="#4ecdc4">SMA 200</text>
</g>
</svg></body></html>
